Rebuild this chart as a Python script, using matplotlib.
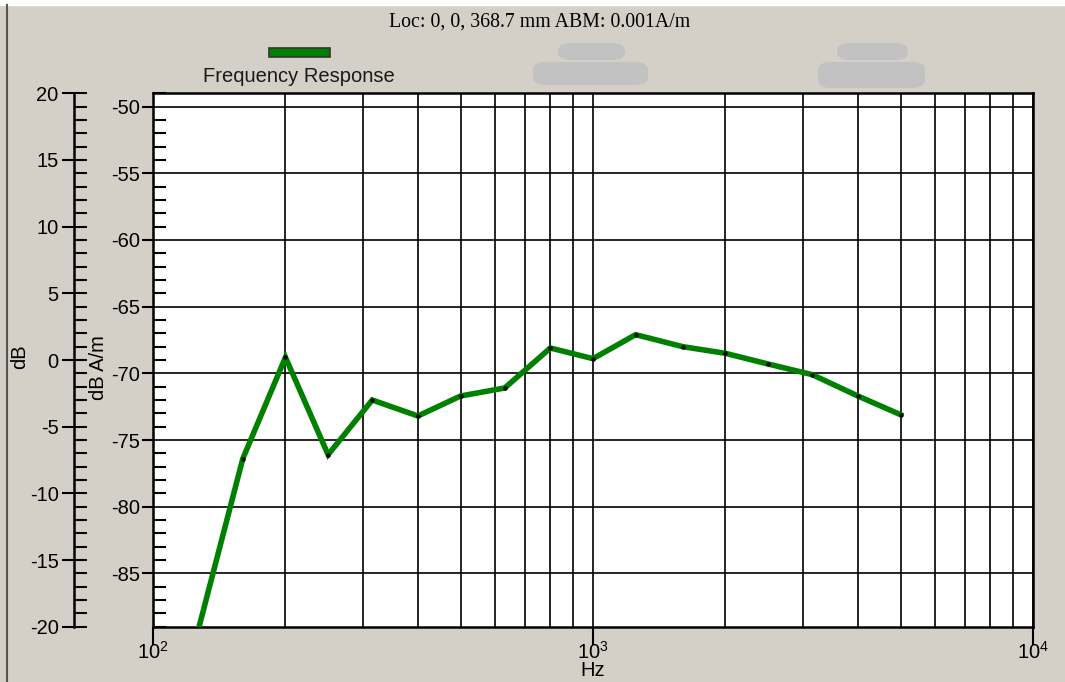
import matplotlib
matplotlib.use("Agg")
import matplotlib.pyplot as plt
from matplotlib.patches import Rectangle, FancyBboxPatch
from matplotlib.ticker import FixedLocator, MultipleLocator, NullFormatter, FixedFormatter

# ---- data ----
freq_hz = [125, 160, 200, 250, 315, 400, 500, 630, 800, 1000, 1250, 1600, 2000, 2500, 3150, 4000, 5000]
level_db_am = [-90.0, -76.4, -68.8, -76.1, -72.0, -73.2, -71.7, -71.1, -68.1, -68.9, -67.1, -68.0, -68.5, -69.3, -70.1, -71.7, -73.1]

title_text = "Loc: 0, 0, 368.7 mm ABM: 0.001A/m"
legend_label = "Frequency Response"
xtick_values = [100, 1000, 10000]
xtick_labels = [r"$10^2$", r"$10^3$", r"$10^4$"]
inner_ylim = (-89, -49)
outer_ylim = (-20, 20)

plt.rcParams['font.family'] = ['Liberation Sans', 'DejaVu Sans']
plt.rcParams['mathtext.fontset'] = 'custom'
plt.rcParams['mathtext.rm'] = 'Liberation Sans'
plt.rcParams['mathtext.it'] = 'Liberation Sans'
plt.rcParams['axes.unicode_minus'] = False

FS = 14.5
W, H = 1065, 682
bg = '#d4d0c8'
fig = plt.figure(figsize=(W / 100, H / 100), dpi=100, facecolor=bg)

def fx(px):
    return px / W

def fy(py):
    return 1 - py / H

# top white strip and left dark border
fig.patches.append(Rectangle((0, fy(5)), 1, 5 / H, transform=fig.transFigure, color='white', zorder=0))
fig.lines.append(plt.Line2D([fx(7), fx(7)], [0, fy(5)], transform=fig.transFigure, color='#555555', lw=1.5))

# main axes
L, R, T, B = 153, 1033, 93.3, 626.7
ax = fig.add_axes([fx(L), fy(B), fx(R - L), (B - T) / H])
ax.set_facecolor('white')
ax.set_xscale('log')
ax.set_xlim(100, 10000)
ax.set_ylim(*inner_ylim)

ax.plot(freq_hz, level_db_am, color='#008000', lw=4.0, solid_joinstyle='miter', zorder=3, clip_on=True)
ax.plot(freq_hz, level_db_am, ls='none', marker='o', ms=2.2, color='black', zorder=4)

ax.xaxis.set_major_locator(FixedLocator(xtick_values))
ax.xaxis.set_major_formatter(FixedFormatter(xtick_labels))
ax.xaxis.set_minor_locator(FixedLocator([m * 10 ** e for e in (2, 3) for m in range(2, 10)]))
ax.xaxis.set_minor_formatter(NullFormatter())
ax.yaxis.set_major_locator(MultipleLocator(5))
ax.yaxis.set_minor_locator(MultipleLocator(1))

ax.grid(True, which='major', axis='both', color='black', lw=1.2)
ax.grid(True, which='minor', axis='x', color='black', lw=1.2)
ax.set_axisbelow(True)

ax.tick_params(axis='x', which='major', direction='out', length=13, width=1.5, labelsize=FS, pad=-3, colors='black')
ax.tick_params(axis='x', which='minor', length=0)
ax.tick_params(axis='y', which='major', direction='out', length=8, width=1.5, labelsize=FS, pad=1, colors='black')
ax.tick_params(axis='y', which='minor', direction='in', length=9, width=1.5)
for s in ax.spines.values():
    s.set_linewidth(1.8)
    s.set_color('black')

ax.set_xlabel("Hz", fontsize=FS)
ax.xaxis.set_label_coords(fx(593), fy(671), transform=fig.transFigure)
ax.xaxis.label.set_va('center')
ax.set_ylabel("dB A/m", fontsize=FS)
ax.yaxis.set_label_coords(fx(98), fy(368), transform=fig.transFigure)
ax.yaxis.label.set_va('center')

# outer (left) axis
ax2 = fig.add_axes([fx(74), fy(B), 0.0001, (B - T) / H])
ax2.set_facecolor('none')
ax2.set_ylim(*outer_ylim)
ax2.set_xticks([])
for side in ('top', 'right', 'bottom'):
    ax2.spines[side].set_visible(False)
ax2.spines['left'].set_linewidth(1.8)
ax2.yaxis.set_major_locator(MultipleLocator(5))
ax2.yaxis.set_minor_locator(MultipleLocator(1))
ax2.tick_params(axis='y', which='major', direction='inout', length=18, width=1.5, labelsize=FS, pad=2)
ax2.tick_params(axis='y', which='minor', direction='in', length=9, width=1.5)
ax2.set_ylabel("dB", fontsize=FS)
ax2.yaxis.set_label_coords(fx(20), fy(357), transform=fig.transFigure)
ax2.yaxis.label.set_va('center')

# title
fig.text(fx(540), fy(22), title_text, ha='center', va='center', fontsize=14.3,
         family=['Liberation Serif', 'DejaVu Serif'], color='black')

# legend
fig.patches.append(Rectangle((fx(269), fy(57)), fx(61), 9 / H, transform=fig.transFigure,
                             facecolor='#008000', edgecolor='#333333', lw=1.2))
fig.text(fx(299), fy(77), legend_label, ha='center', va='center', fontsize=FS, color='#1a1a1a')

# blurred (hidden) legend entries
for (x0, y0, x1, y1) in [(558, 43, 625, 60), (533, 62, 648, 85), (837, 43, 908, 60), (818, 62, 925, 88)]:
    fig.patches.append(FancyBboxPatch((fx(x0), fy(y1)), fx(x1 - x0), (y1 - y0) / H,
                                      boxstyle='round,pad=0,rounding_size=0.012',
                                      transform=fig.transFigure, facecolor='#c2c2c2', edgecolor='none'))

fig.savefig('out.png', dpi=100, facecolor=bg)
